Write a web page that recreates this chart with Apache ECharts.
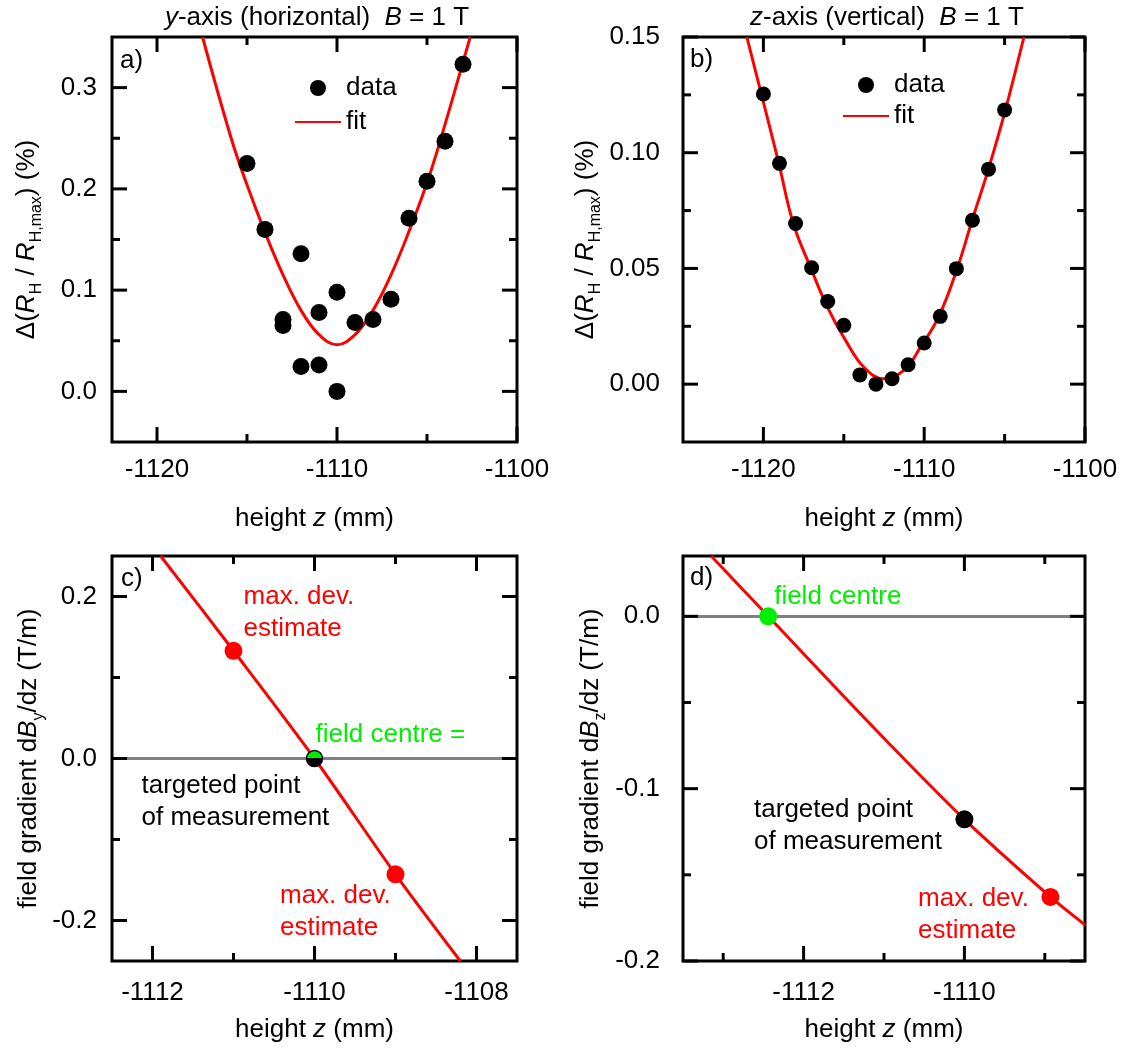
<!DOCTYPE html>
<html><head><meta charset="utf-8">
<script src="https://cdn.jsdelivr.net/npm/echarts@6/dist/echarts.min.js"></script>
<style>html,body{margin:0;padding:0;background:#fff}#chart{width:1126px;height:1052px}</style>
</head><body><div id="chart"></div>
<script>
// ---------- data ----------
// panel a: y-axis (horizontal)
const aHeights = [-1115, -1114, -1113, -1113, -1112, -1112, -1111, -1111, -1110, -1110, -1109, -1108, -1107, -1106, -1105, -1104, -1103];
const aValues  = [0.225, 0.160, 0.071, 0.065, 0.136, 0.0245, 0.078, 0.026, 0.098, 0.000, 0.068, 0.071, 0.091, 0.171, 0.2075, 0.247, 0.323];
const aFitX = [-1117.47, -1115.88, -1115, -1114, -1113, -1112, -1111, -1110, -1109, -1108, -1107, -1106, -1105, -1104.24, -1102.6];
const aFitY = [0.35, 0.250, 0.204, 0.157, 0.115, 0.080, 0.056, 0.046, 0.056, 0.080, 0.115, 0.158, 0.206, 0.249, 0.35];
// panel b: z-axis (vertical)
const bHeights = [-1120, -1119, -1118, -1117, -1116, -1115, -1114, -1113, -1112, -1111, -1110, -1109, -1108, -1107, -1106, -1105];
const bValues  = [0.1254, 0.0954, 0.0694, 0.0503, 0.0357, 0.0254, 0.0040, 0.0000, 0.0023, 0.0084, 0.0178, 0.0293, 0.0499, 0.0708, 0.0929, 0.1185];
const bFitX = [-1121.03, -1119.09, -1118.14, -1117.06, -1116.02, -1114.89, -1113.75, -1112.51, -1111.27, -1110.23, -1109.09, -1107.95, -1107.02, -1106.0, -1104.95, -1103.8];
const bFitY = [0.15, 0.0968, 0.0694, 0.0503, 0.0333, 0.0189, 0.0073, 0.0023, 0.0059, 0.0160, 0.0293, 0.0499, 0.0708, 0.093, 0.1185, 0.15];
// panel c: gradient dBy/dz
const cLineX = [-1111.9, -1111.0, -1110.0, -1109.0, -1108.2];
const cLineY = [0.25, 0.133, 0.0, -0.143, -0.25];
const cMaxDevX = [-1111.0, -1109.0];
const cMaxDevY = [0.133, -0.143];
const cCentre = [-1110.0, 0.0];
// panel d: gradient dBz/dz
const dLineX = [-1113.15, -1112.44, -1111.14, -1110.0, -1108.93, -1108.5];
const dLineY = [0.035, 0.0, -0.064, -0.1178, -0.1628, -0.179];
const dCentre = [-1112.44, 0.0];
const dTarget = [-1110.0, -0.1178];
const dMaxDev = [-1108.93, -0.1628];
// axis ranges and ticks
const xRanges = [[-1122.5, -1100], [-1125, -1100], [-1112.5, -1107.5], [-1113.5, -1108.5]];
const yRanges = [[-0.05, 0.35], [-0.025, 0.15], [-0.25, 0.25], [-0.2, 0.035]];
const xMajor = [[-1120, -1110, -1100], [-1120, -1110, -1100], [-1112, -1110, -1108], [-1112, -1110]];
const xMinor = [[-1115, -1105], [-1115, -1105], [-1111, -1109], [-1113, -1111, -1109]];
const yMajor = [[0, 0.1, 0.2, 0.3], [0, 0.05, 0.10, 0.15], [-0.2, 0, 0.2], [-0.2, -0.1, 0]];
const yMinor = [[0.05, 0.15, 0.25], [0.025, 0.075, 0.125], [-0.1, 0.1], [-0.15, -0.05]];
const yDecimals = [1, 2, 1, 1];

const pairs = (xs, ys) => xs.map((x, i) => [x, ys[i]]);

// ---------- layout / style ----------
const FONT = '"Liberation Sans", Arial, Helvetica, sans-serif';
const FS = 26;
const RED = '#ff0000', GREEN = '#00ee00';
const MAJOR_LEN = 15, MINOR_LEN = 8;
const grids = [
  {left: 112, top: 37, width: 405, height: 405},
  {left: 683, top: 37, width: 402, height: 405},
  {left: 112, top: 556, width: 405, height: 405},
  {left: 683, top: 556, width: 402, height: 405}
];
const yLabelMargin = [15, 23, 15, 23];
const xLabelMargin = [15, 15, 19, 19];
const xNameGap = [64, 64, 56, 56];
const yNameGap = [67, 79, 65, 74];
const yNames = [
  '\u0394({i|R}{s|H} / {i|R}{s|H,max}) (%)',
  '\u0394({i|R}{s|H} / {i|R}{s|H,max}) (%)',
  'field gradient d{i|B}{s|y}/dz (T/m)',
  'field gradient d{i|B}{s|z}/dz (T/m)'
];
const richName = {
  i: {fontStyle: 'italic', fontSize: FS, lineHeight: 37, fontFamily: FONT, color: '#000'},
  s: {fontSize: 16, lineHeight: 16, verticalAlign: 'bottom', fontFamily: FONT, color: '#000'}
};

const xAxes = [], yAxes = [];
for (let g = 0; g < 4; g++) {
  const dec = yDecimals[g];
  xAxes.push({type: 'value', gridIndex: g, min: xRanges[g][0], max: xRanges[g][1], position: 'bottom',
    axisLine: {show: false, onZero: false}, axisTick: {show: false}, splitLine: {show: false},
    axisLabel: {show: true, customValues: xMajor[g], margin: xLabelMargin[g], fontSize: FS, color: '#000', fontFamily: FONT,
      showMinLabel: true, showMaxLabel: true, formatter: v => String(Math.round(v))},
    name: 'height {i|z} (mm)', nameLocation: 'middle', nameGap: xNameGap[g],
    nameTextStyle: {fontSize: FS, color: '#000', fontFamily: FONT,
      rich: {i: {fontStyle: 'italic', fontSize: FS, fontFamily: FONT, color: '#000'}}}});
  yAxes.push({type: 'value', gridIndex: g, min: yRanges[g][0], max: yRanges[g][1], position: 'left',
    axisLine: {show: false, onZero: false}, axisTick: {show: false}, splitLine: {show: false},
    axisLabel: {show: true, customValues: yMajor[g], margin: yLabelMargin[g], fontSize: FS, color: '#000', fontFamily: FONT,
      showMinLabel: true, showMaxLabel: true, formatter: v => v.toFixed(dec)},
    name: yNames[g], nameLocation: 'middle', nameGap: yNameGap[g],
    nameTextStyle: {fontSize: FS, lineHeight: 37, color: '#000', fontFamily: FONT, rich: richName}});
}

function ax(g) { return {xAxisIndex: g, yAxisIndex: g}; }

// inward ticks on all four sides, drawn through the axis scales
function tickSeries(g) {
  const data = [].concat(
    xMajor[g].map(v => [v, 0, MAJOR_LEN]), xMinor[g].map(v => [v, 0, MINOR_LEN]),
    yMajor[g].map(v => [v, 1, MAJOR_LEN]), yMinor[g].map(v => [v, 1, MINOR_LEN]));
  return Object.assign(ax(g), {
    type: 'custom', silent: true, z: 6, clip: false, data: data,
    encode: {x: -1, y: -1},
    renderItem: function (params, api) {
      const cs = params.coordSys;
      const v = api.value(0), isY = api.value(1) === 1, len = api.value(2);
      const st = {stroke: '#000', lineWidth: 3};
      const L = cs.x, R = cs.x + cs.width, T = cs.y, B = cs.y + cs.height;
      let segs;
      if (!isY) {
        const px = api.coord([v, yRanges[g][0]])[0];
        segs = [[px, B, px, B - len], [px, T, px, T + len]];
      } else {
        const py = api.coord([xRanges[g][0], v])[1];
        segs = [[L, py, L + len, py], [R, py, R - len, py]];
      }
      return {type: 'group', children: segs.map(s => ({type: 'line',
        shape: {x1: s[0], y1: s[1], x2: s[2], y2: s[3]}, style: st}))};
    }
  });
}

function textSeries(g, x, y, text, color) {
  return Object.assign(ax(g), {
    type: 'scatter', data: [[x, y]], symbolSize: 1, silent: true, z: 10,
    itemStyle: {color: 'rgba(0,0,0,0)', opacity: 1},
    label: {show: true, position: [0, 0], align: 'left', verticalAlign: 'top', formatter: text,
      fontSize: FS, lineHeight: 32, color: color, fontFamily: FONT, opacity: 1}
  });
}
const zeroLine = {z: 1, silent: true, symbol: 'none', label: {show: false},
  lineStyle: {color: '#808080', width: 3, type: 'solid', opacity: 1}, data: [{yAxis: 0}]};

const series = [
  Object.assign(ax(0), {name: 'fit', type: 'line', data: pairs(aFitX, aFitY), smooth: 0.4, symbol: 'none',
    lineStyle: {color: RED, width: 3}, itemStyle: {color: RED}, z: 2}),
  Object.assign(ax(0), {name: 'data', type: 'scatter', data: pairs(aHeights, aValues), symbolSize: 17,
    itemStyle: {color: '#000', opacity: 1}, z: 3}),
  Object.assign(ax(1), {name: 'fit', type: 'line', data: pairs(bFitX, bFitY), smooth: 0.4, symbol: 'none',
    lineStyle: {color: RED, width: 3}, itemStyle: {color: RED}, z: 2}),
  Object.assign(ax(1), {name: 'data', type: 'scatter', data: pairs(bHeights, bValues), symbolSize: 15,
    itemStyle: {color: '#000', opacity: 1}, z: 3}),
  // panel c
  Object.assign(ax(2), {type: 'line', data: pairs(cLineX, cLineY), smooth: 0.3, symbol: 'none',
    lineStyle: {color: RED, width: 3}, z: 2, markLine: zeroLine}),
  Object.assign(ax(2), {type: 'scatter', data: pairs(cMaxDevX, cMaxDevY), symbolSize: 18,
    itemStyle: {color: RED, opacity: 1}, z: 3}),
  Object.assign(ax(2), {type: 'scatter', data: [cCentre], symbolSize: 16, z: 4,
    itemStyle: {opacity: 1, borderColor: '#000', borderWidth: 1.5,
      color: {type: 'linear', x: 0, y: 0, x2: 0, y2: 1, colorStops: [
        {offset: 0, color: GREEN}, {offset: 0.5, color: GREEN}, {offset: 0.5, color: '#000'}, {offset: 1, color: '#000'}]}}}),
  // panel d
  Object.assign(ax(3), {type: 'line', data: pairs(dLineX, dLineY), smooth: 0.3, symbol: 'none',
    lineStyle: {color: RED, width: 3}, z: 2, markLine: zeroLine}),
  Object.assign(ax(3), {type: 'scatter', data: [dCentre], symbolSize: 18, itemStyle: {color: GREEN, opacity: 1}, z: 3}),
  Object.assign(ax(3), {type: 'scatter', data: [dTarget], symbolSize: 18, itemStyle: {color: '#000', opacity: 1}, z: 3}),
  Object.assign(ax(3), {type: 'scatter', data: [dMaxDev], symbolSize: 18, itemStyle: {color: RED, opacity: 1}, z: 3}),
  // annotations (anchored in data coordinates)
  textSeries(2, -1110.87, 0.219, 'max. dev.\nestimate', RED),
  textSeries(2, -1109.98, 0.048, 'field centre =', GREEN),
  textSeries(2, -1112.13, -0.015, 'targeted point\nof measurement', '#000'),
  textSeries(2, -1110.42, -0.151, 'max. dev.\nestimate', RED),
  textSeries(3, -1112.36, 0.0205, 'field centre', GREEN),
  textSeries(3, -1112.61, -0.1032, 'targeted point\nof measurement', '#000'),
  textSeries(3, -1110.57, -0.1548, 'max. dev.\nestimate', RED),
  tickSeries(0), tickSeries(1), tickSeries(2), tickSeries(3)
];

const titleRich = {i: {fontStyle: 'italic', fontSize: FS, fontFamily: FONT, fill: '#000'}};
function gtext(x, y, text, align) {
  return {type: 'text', x: x, y: y, silent: true,
    style: {text: text, rich: titleRich, fontSize: FS, fontFamily: FONT, fill: '#000', align: align, verticalAlign: 'middle'}};
}
const legendCommon = {orient: 'vertical', itemWidth: 46, itemHeight: 16, padding: 0, selectedMode: false,
  data: ['data', {name: 'fit', itemStyle: {opacity: 0}}],
  textStyle: {fontSize: FS, color: '#000', fontFamily: FONT}};

const option = {
  animation: false,
  backgroundColor: '#fff',
  grid: grids.map(r => Object.assign({show: true, borderColor: '#000', borderWidth: 3, backgroundColor: 'transparent',
    containLabel: false, outerBoundsMode: 'none'}, r)),
  xAxis: xAxes,
  yAxis: yAxes,
  legend: [
    Object.assign({left: 294, top: 75, itemGap: 8}, legendCommon),
    Object.assign({left: 842, top: 72, itemGap: 5}, legendCommon)
  ],
  graphic: [
    gtext(317, 18, '{i|y}-axis (horizontal)  {i|B} = 1 T', 'center'),
    gtext(887, 18, '{i|z}-axis (vertical)  {i|B} = 1 T', 'center'),
    gtext(120, 61, 'a)', 'left'),
    gtext(690, 60, 'b)', 'left'),
    gtext(121, 579, 'c)', 'left'),
    gtext(690, 578, 'd)', 'left')
  ],
  series: series
};
const chart = echarts.init(document.getElementById('chart'), null, {renderer: 'canvas'});
chart.setOption(option);
</script></body></html>
